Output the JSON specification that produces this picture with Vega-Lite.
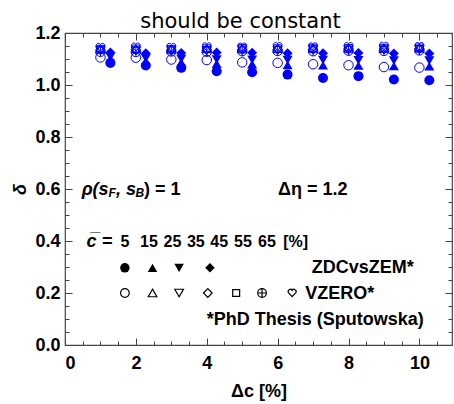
{
  "$schema": "https://vega.github.io/schema/vega-lite/v6.json",
  "width": 387,
  "height": 312,
  "autosize": {"type": "none"},
  "padding": {"left": 65, "top": 33, "right": 2, "bottom": 59},
  "title": {
    "text": "should be constant",
    "font": "DejaVu Sans",
    "fontSize": 21,
    "fontWeight": "normal",
    "color": "black",
    "dx": -18,
    "dy": 14,
    "offset": 6
  },
  "config": {
    "view": {"stroke": "#444", "strokeWidth": 1.2},
    "font": "Liberation Sans",
    "axis": {
      "grid": false,
      "domain": false,
      "labelFont": "Liberation Sans",
      "labelFontWeight": "bold",
      "labelFontSize": 18,
      "labelColor": "black",
      "titleFont": "Liberation Sans",
      "titleFontWeight": "bold",
      "titleFontSize": 18,
      "titleColor": "black",
      "tickColor": "#444",
      "tickWidth": 1
    }
  },
  "datasets": {
    "vzero": [
      {"dc": 1, "c": 5, "delta": 1.106}, {"dc": 2, "c": 5, "delta": 1.105}, {"dc": 3, "c": 5, "delta": 1.098}, {"dc": 4, "c": 5, "delta": 1.096}, {"dc": 5, "c": 5, "delta": 1.087},
      {"dc": 6, "c": 5, "delta": 1.085}, {"dc": 7, "c": 5, "delta": 1.08}, {"dc": 8, "c": 5, "delta": 1.076}, {"dc": 9, "c": 5, "delta": 1.069}, {"dc": 10, "c": 5, "delta": 1.067},
      {"dc": 1, "c": 15, "delta": 1.138}, {"dc": 2, "c": 15, "delta": 1.139}, {"dc": 3, "c": 15, "delta": 1.138}, {"dc": 4, "c": 15, "delta": 1.14}, {"dc": 5, "c": 15, "delta": 1.139},
      {"dc": 6, "c": 15, "delta": 1.141}, {"dc": 7, "c": 15, "delta": 1.14}, {"dc": 8, "c": 15, "delta": 1.142}, {"dc": 9, "c": 15, "delta": 1.141}, {"dc": 10, "c": 15, "delta": 1.142},
      {"dc": 1, "c": 25, "delta": 1.132}, {"dc": 2, "c": 25, "delta": 1.131}, {"dc": 3, "c": 25, "delta": 1.133}, {"dc": 4, "c": 25, "delta": 1.132}, {"dc": 5, "c": 25, "delta": 1.134},
      {"dc": 6, "c": 25, "delta": 1.133}, {"dc": 7, "c": 25, "delta": 1.135}, {"dc": 8, "c": 25, "delta": 1.134}, {"dc": 9, "c": 25, "delta": 1.135}, {"dc": 10, "c": 25, "delta": 1.136},
      {"dc": 1, "c": 35, "delta": 1.135}, {"dc": 2, "c": 35, "delta": 1.136}, {"dc": 3, "c": 35, "delta": 1.135}, {"dc": 4, "c": 35, "delta": 1.137}, {"dc": 5, "c": 35, "delta": 1.136},
      {"dc": 6, "c": 35, "delta": 1.138}, {"dc": 7, "c": 35, "delta": 1.137}, {"dc": 8, "c": 35, "delta": 1.139}, {"dc": 9, "c": 35, "delta": 1.138}, {"dc": 10, "c": 35, "delta": 1.139},
      {"dc": 1, "c": 45, "delta": 1.138}, {"dc": 2, "c": 45, "delta": 1.139}, {"dc": 3, "c": 45, "delta": 1.138}, {"dc": 4, "c": 45, "delta": 1.14}, {"dc": 5, "c": 45, "delta": 1.141},
      {"dc": 6, "c": 45, "delta": 1.14}, {"dc": 7, "c": 45, "delta": 1.142}, {"dc": 8, "c": 45, "delta": 1.141}, {"dc": 9, "c": 45, "delta": 1.142}, {"dc": 10, "c": 45, "delta": 1.143},
      {"dc": 1, "c": 55, "delta": 1.128}, {"dc": 2, "c": 55, "delta": 1.127}, {"dc": 3, "c": 55, "delta": 1.129}, {"dc": 4, "c": 55, "delta": 1.128}, {"dc": 5, "c": 55, "delta": 1.13},
      {"dc": 6, "c": 55, "delta": 1.131}, {"dc": 7, "c": 55, "delta": 1.13}, {"dc": 8, "c": 55, "delta": 1.132}, {"dc": 9, "c": 55, "delta": 1.131}, {"dc": 10, "c": 55, "delta": 1.133},
      {"dc": 1, "c": 65, "delta": 1.145}, {"dc": 2, "c": 65, "delta": 1.146}, {"dc": 3, "c": 65, "delta": 1.145}, {"dc": 4, "c": 65, "delta": 1.147}, {"dc": 5, "c": 65, "delta": 1.146},
      {"dc": 6, "c": 65, "delta": 1.148}, {"dc": 7, "c": 65, "delta": 1.147}, {"dc": 8, "c": 65, "delta": 1.148}, {"dc": 9, "c": 65, "delta": 1.149}, {"dc": 10, "c": 65, "delta": 1.148}
    ],
    "zdc": [
      {"dc": 1.28, "c": 5, "delta": 1.085}, {"dc": 2.28, "c": 5, "delta": 1.075}, {"dc": 3.28, "c": 5, "delta": 1.066}, {"dc": 4.28, "c": 5, "delta": 1.053}, {"dc": 5.28, "c": 5, "delta": 1.049},
      {"dc": 6.28, "c": 5, "delta": 1.04}, {"dc": 7.28, "c": 5, "delta": 1.027}, {"dc": 8.28, "c": 5, "delta": 1.034}, {"dc": 9.28, "c": 5, "delta": 1.021}, {"dc": 10.28, "c": 5, "delta": 1.018},
      {"dc": 1.28, "c": 15, "delta": 1.1}, {"dc": 2.28, "c": 15, "delta": 1.092}, {"dc": 3.28, "c": 15, "delta": 1.087}, {"dc": 4.28, "c": 15, "delta": 1.082}, {"dc": 5.28, "c": 15, "delta": 1.08},
      {"dc": 6.28, "c": 15, "delta": 1.077}, {"dc": 7.28, "c": 15, "delta": 1.076}, {"dc": 8.28, "c": 15, "delta": 1.075}, {"dc": 9.28, "c": 15, "delta": 1.073}, {"dc": 10.28, "c": 15, "delta": 1.072},
      {"dc": 1.28, "c": 25, "delta": 1.108}, {"dc": 2.28, "c": 25, "delta": 1.103}, {"dc": 3.28, "c": 25, "delta": 1.1}, {"dc": 4.28, "c": 25, "delta": 1.098}, {"dc": 5.28, "c": 25, "delta": 1.097},
      {"dc": 6.28, "c": 25, "delta": 1.096}, {"dc": 7.28, "c": 25, "delta": 1.096}, {"dc": 8.28, "c": 25, "delta": 1.095}, {"dc": 9.28, "c": 25, "delta": 1.094}, {"dc": 10.28, "c": 25, "delta": 1.094},
      {"dc": 1.28, "c": 35, "delta": 1.125}, {"dc": 2.28, "c": 35, "delta": 1.122}, {"dc": 3.28, "c": 35, "delta": 1.123}, {"dc": 4.28, "c": 35, "delta": 1.125}, {"dc": 5.28, "c": 35, "delta": 1.124},
      {"dc": 6.28, "c": 35, "delta": 1.122}, {"dc": 7.28, "c": 35, "delta": 1.122}, {"dc": 8.28, "c": 35, "delta": 1.123}, {"dc": 9.28, "c": 35, "delta": 1.121}, {"dc": 10.28, "c": 35, "delta": 1.121}
    ],
    "keyZdc": [
      {"dc": 1.69, "delta": 0.297, "c": 5}, {"dc": 2.47, "delta": 0.297, "c": 15},
      {"dc": 3.22, "delta": 0.297, "c": 25}, {"dc": 4.09, "delta": 0.297, "c": 35}
    ],
    "keyVzero": [
      {"dc": 1.69, "delta": 0.2, "c": 5}, {"dc": 2.47, "delta": 0.2, "c": 15}, {"dc": 3.22, "delta": 0.2, "c": 25},
      {"dc": 4.03, "delta": 0.2, "c": 35}, {"dc": 4.83, "delta": 0.2, "c": 45}, {"dc": 5.56, "delta": 0.2, "c": 55}, {"dc": 6.41, "delta": 0.2, "c": 65}
    ],
    "italicText": [
      {"dc": 0.47, "delta": 0.597, "text": "ρ(s"},
      {"dc": 1.44, "delta": 0.597, "text": ", s"},
      {"dc": 0.61, "delta": 0.397, "text": "c̅ ="}
    ],
    "subText": [
      {"dc": 1.23, "delta": 0.583, "text": "F"},
      {"dc": 1.99, "delta": 0.583, "text": "B"}
    ],
    "boldText": [
      {"dc": 2.23, "delta": 0.597, "text": ") = 1"},
      {"dc": 6.01, "delta": 0.597, "text": "Δη = 1.2"},
      {"dc": 6.96, "delta": 0.295, "text": "ZDCvsZEM*"},
      {"dc": 6.78, "delta": 0.196, "text": "VZERO*"},
      {"dc": 4.0, "delta": 0.096, "text": "*PhD Thesis (Sputowska)"}
    ],
    "centralities": [
      {"dc": 1.69, "delta": 0.397, "text": "5"}, {"dc": 2.37, "delta": 0.397, "text": "15"},
      {"dc": 3.03, "delta": 0.397, "text": "25"}, {"dc": 3.69, "delta": 0.397, "text": "35"},
      {"dc": 4.35, "delta": 0.397, "text": "45"}, {"dc": 5.02, "delta": 0.397, "text": "55"},
      {"dc": 5.7, "delta": 0.397, "text": "65"}, {"dc": 6.51, "delta": 0.397, "text": "[%]"}
    ]
  },
  "layer": [
    {
      "data": {"name": "vzero"},
      "mark": {"type": "point", "filled": false, "color": "#0000ff", "strokeWidth": 1, "size": 90, "opacity": 1},
      "encoding": {
        "x": {
          "field": "dc", "type": "quantitative",
          "scale": {"domain": [0, 10.92], "nice": false},
          "axis": {
            "orient": "bottom", "values": [0, 2, 4, 6, 8, 10], "ticks": false,
            "labelPadding": 9, "title": "Δc [%]", "titlePadding": 10
          }
        },
        "y": {
          "field": "delta", "type": "quantitative",
          "scale": {"domain": [0, 1.2], "nice": false},
          "axis": {
            "orient": "left", "values": [0, 0.2, 0.4, 0.6, 0.8, 1.0, 1.2], "format": ".1f", "ticks": false,
            "labelPadding": 5, "title": "δ", "titleFontStyle": "italic", "titlePadding": 5
          }
        },
        "shape": {
          "field": "c", "type": "nominal", "legend": null,
          "scale": {
            "domain": [5, 15, 25, 35, 45, 55, 65],
            "range": [
              "circle", "triangle-up", "triangle-down", "diamond",
              "M-0.8,-0.8L0.8,-0.8L0.8,0.8L-0.8,0.8Z",
              "M-1,0A1,1 0 1,0 1,0A1,1 0 1,0 -1,0ZM-1,0L1,0M0,-1L0,1",
              "M0,0.85L-0.85,-0.1A0.48,0.48 0 0 1 0,-0.6A0.48,0.48 0 0 1 0.85,-0.1Z"
            ]
          }
        }
      }
    },
    {
      "data": {"name": "zdc"},
      "mark": {"type": "point", "filled": true, "color": "#0000ff", "size": 100, "opacity": 1},
      "encoding": {
        "x": {
          "field": "dc", "type": "quantitative",
          "scale": {"domain": [0, 10.92], "nice": false},
          "axis": {
            "orient": "bottom", "labels": false, "title": null,
            "values": [0, 0.5, 1, 1.5, 2, 2.5, 3, 3.5, 4, 4.5, 5, 5.5, 6, 6.5, 7, 7.5, 8, 8.5, 9, 9.5, 10, 10.5],
            "tickSize": {"condition": {"test": "datum.value % 2 === 0", "value": -7}, "value": -4}
          }
        },
        "y": {
          "field": "delta", "type": "quantitative",
          "scale": {"domain": [0, 1.2], "nice": false},
          "axis": {
            "orient": "left", "labels": false, "title": null,
            "values": [0, 0.05, 0.1, 0.15, 0.2, 0.25, 0.3, 0.35, 0.4, 0.45, 0.5, 0.55, 0.6, 0.65, 0.7, 0.75, 0.8, 0.85, 0.9, 0.95, 1.0, 1.05, 1.1, 1.15, 1.2],
            "tickSize": {"condition": {"test": "abs(datum.value * 5 - round(datum.value * 5)) < 0.001", "value": -7}, "value": -4}
          }
        },
        "shape": {"field": "c", "type": "nominal", "legend": null}
      }
    },
    {
      "data": {"name": "keyZdc"},
      "mark": {"type": "point", "filled": true, "color": "black", "size": 90, "opacity": 1},
      "encoding": {
        "x": {
          "field": "dc", "type": "quantitative",
          "scale": {"domain": [0, 10.92], "nice": false},
          "axis": {
            "orient": "top", "labels": false, "title": null,
            "values": [0, 0.5, 1, 1.5, 2, 2.5, 3, 3.5, 4, 4.5, 5, 5.5, 6, 6.5, 7, 7.5, 8, 8.5, 9, 9.5, 10, 10.5],
            "tickSize": {"condition": {"test": "datum.value % 2 === 0", "value": -7}, "value": -4}
          }
        },
        "y": {
          "field": "delta", "type": "quantitative",
          "scale": {"domain": [0, 1.2], "nice": false},
          "axis": {
            "orient": "right", "labels": false, "title": null,
            "values": [0, 0.05, 0.1, 0.15, 0.2, 0.25, 0.3, 0.35, 0.4, 0.45, 0.5, 0.55, 0.6, 0.65, 0.7, 0.75, 0.8, 0.85, 0.9, 0.95, 1.0, 1.05, 1.1, 1.15, 1.2],
            "tickSize": {"condition": {"test": "abs(datum.value * 5 - round(datum.value * 5)) < 0.001", "value": -7}, "value": -4}
          }
        },
        "shape": {"field": "c", "type": "nominal", "legend": null}
      }
    },
    {
      "data": {"name": "keyVzero"},
      "mark": {"type": "point", "filled": false, "color": "black", "strokeWidth": 1.2, "size": 75, "opacity": 1},
      "encoding": {
        "x": {"field": "dc", "type": "quantitative", "scale": {"domain": [0, 10.92], "nice": false}, "axis": null},
        "y": {"field": "delta", "type": "quantitative", "scale": {"domain": [0, 1.2], "nice": false}, "axis": null},
        "shape": {"field": "c", "type": "nominal", "legend": null}
      }
    },
    {
      "data": {"name": "italicText"},
      "mark": {"type": "text", "align": "left", "baseline": "middle", "font": "Liberation Sans", "fontSize": 18, "fontWeight": "bold", "fontStyle": "italic", "color": "black"},
      "encoding": {
        "x": {"field": "dc", "type": "quantitative", "scale": {"domain": [0, 10.92], "nice": false}, "axis": null},
        "y": {"field": "delta", "type": "quantitative", "scale": {"domain": [0, 1.2], "nice": false}, "axis": null},
        "text": {"field": "text"}
      }
    },
    {
      "data": {"name": "subText"},
      "mark": {"type": "text", "align": "left", "baseline": "middle", "font": "Liberation Sans", "fontSize": 12, "fontWeight": "bold", "fontStyle": "italic", "color": "black"},
      "encoding": {
        "x": {"field": "dc", "type": "quantitative", "scale": {"domain": [0, 10.92], "nice": false}, "axis": null},
        "y": {"field": "delta", "type": "quantitative", "scale": {"domain": [0, 1.2], "nice": false}, "axis": null},
        "text": {"field": "text"}
      }
    },
    {
      "data": {"name": "boldText"},
      "mark": {"type": "text", "align": "left", "baseline": "middle", "font": "Liberation Sans", "fontSize": 18, "fontWeight": "bold", "color": "black"},
      "encoding": {
        "x": {"field": "dc", "type": "quantitative", "scale": {"domain": [0, 10.92], "nice": false}, "axis": null},
        "y": {"field": "delta", "type": "quantitative", "scale": {"domain": [0, 1.2], "nice": false}, "axis": null},
        "text": {"field": "text"}
      }
    },
    {
      "data": {"name": "centralities"},
      "mark": {"type": "text", "align": "center", "baseline": "middle", "font": "Liberation Sans", "fontSize": 16, "fontWeight": "bold", "color": "black"},
      "encoding": {
        "x": {"field": "dc", "type": "quantitative", "scale": {"domain": [0, 10.92], "nice": false}, "axis": null},
        "y": {"field": "delta", "type": "quantitative", "scale": {"domain": [0, 1.2], "nice": false}, "axis": null},
        "text": {"field": "text"}
      }
    }
  ],
  "resolve": {"axis": {"x": "independent", "y": "independent"}}
}
